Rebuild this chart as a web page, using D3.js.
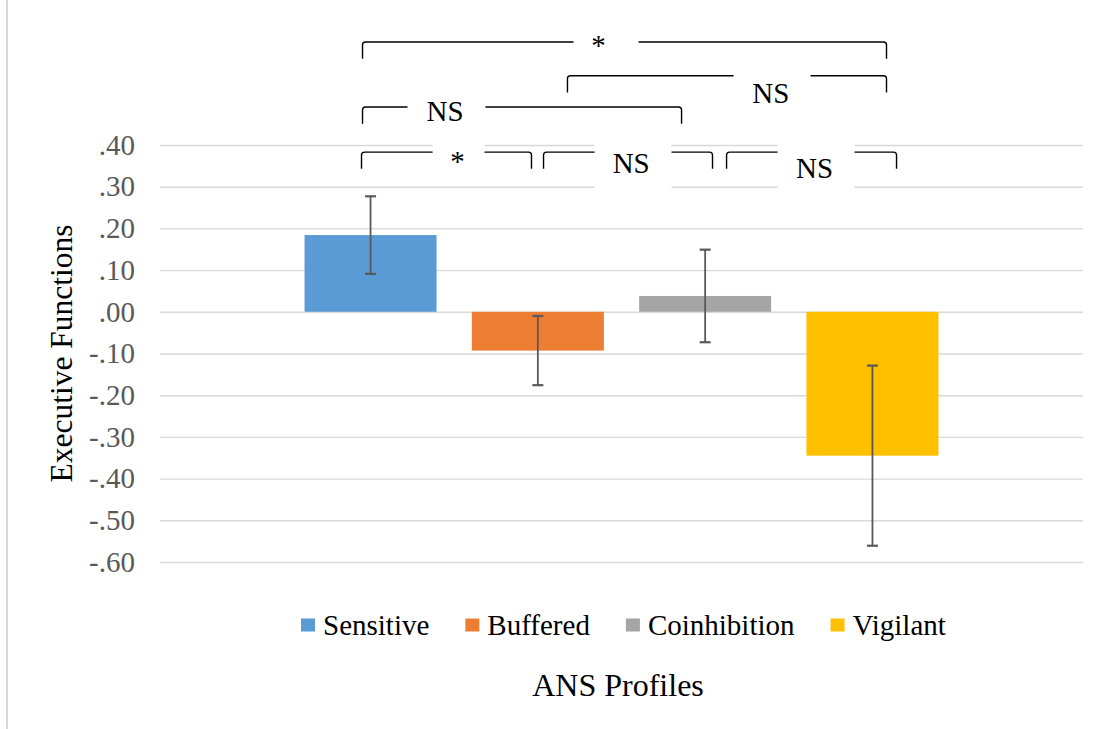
<!DOCTYPE html>
<html>
<head>
<meta charset="utf-8">
<script src="https://cdn.jsdelivr.net/npm/d3@7"></script>
<style>
  html, body { margin: 0; padding: 0; background: #fff; }
  svg { display: block; }
  text { font-family: "Liberation Serif", "Times New Roman", serif; }
</style>
</head>
<body>
<svg id="chart" width="1111" height="729"></svg>
<script>
// ANS profile group means on executive functions, with error bar half-widths
const profiles = ["Sensitive", "Buffered", "Coinhibition", "Vigilant"];
const means = [0.184, -0.093, 0.038, -0.345];
const errors = [0.093, 0.083, 0.111, 0.216];
const colors = ["#5B9BD5", "#ED7D31", "#A5A5A5", "#FFC000"];

const yTickValues = [0.4, 0.3, 0.2, 0.1, 0.0, -0.1, -0.2, -0.3, -0.4, -0.5, -0.6];
const yTickLabels = [".40", ".30", ".20", ".10", ".00", "-.10", "-.20", "-.30", "-.40", "-.50", "-.60"];

// Pairwise comparison brackets: ends in profile-index units, level in y units
const bracketFrom  = [-0.048, 1.177, -0.048, -0.054, 1.034, 2.128];
const bracketTo    = [ 3.084, 3.084,  1.859,  0.962, 2.044, 3.144];
const bracketLevel = [ 0.647, 0.566,  0.491,  0.383, 0.383, 0.383];
const bracketText  = ["*", "NS", "NS", "*", "NS", "NS"];
const labelX       = [1.363, 2.393, 0.445, 0.520, 1.558, 2.654];
const labelBase    = [0.616, 0.500, 0.458, 0.337, 0.332, 0.322];
const gapFrom      = [1.213, 2.170, 0.221, 0.371, 1.339, 2.433];
const gapTo        = [1.602, 2.630, 0.687, 0.681, 1.799, 2.893];

const svg = d3.select("#chart");
const W = 1111, H = 729;
const plot = { left: 160, right: 1083, top: 145, bottom: 562 };

svg.append("rect").attr("width", W).attr("height", H).attr("fill", "#fff");
// chart-area border on the left edge
svg.append("line")
  .attr("x1", 7).attr("x2", 7).attr("y1", 0).attr("y2", H)
  .attr("stroke", "#d9d9d9").attr("stroke-width", 2);

const x = d3.scaleBand()
  .domain(profiles)
  .range([plot.left, plot.right])
  .paddingInner(0.211)
  .paddingOuter(0.864);

const y = d3.scaleLinear()
  .domain([-0.6, 0.4])
  .range([plot.bottom, plot.top]);

const center = d => x(d) + x.bandwidth() / 2;
const pos = d3.scaleLinear().domain([0, profiles.length - 1])
  .range([center(profiles[0]), center(profiles[profiles.length - 1])]);

// gridlines + tick labels
const yAxis = d3.axisLeft(y)
  .tickValues(yTickValues)
  .tickFormat((d, i) => yTickLabels[i])
  .tickSize(-(plot.right - plot.left))
  .tickPadding(25);

const gAxis = svg.append("g")
  .attr("transform", `translate(${plot.left},0)`)
  .call(yAxis);
gAxis.attr("font-family", null);
gAxis.select(".domain").remove();
gAxis.selectAll(".tick line").attr("stroke", "#d9d9d9").attr("stroke-width", 1.4);
gAxis.selectAll(".tick text")
  .attr("fill", "#595959")
  .style("font-size", "29px")
  .style("font-family", "'Liberation Serif', 'Times New Roman', serif");

// bars
svg.append("g").selectAll("rect")
  .data(profiles)
  .join("rect")
  .attr("x", d => x(d))
  .attr("width", x.bandwidth())
  .attr("y", (d, i) => y(Math.max(0, means[i])))
  .attr("height", (d, i) => Math.abs(y(means[i]) - y(0)))
  .attr("fill", (d, i) => colors[i]);

// error bars
const capW = 11;
const eb = svg.append("g").attr("stroke", "#595959");
profiles.forEach((p, i) => {
  const cx = center(p);
  const hi = y(means[i] + errors[i]), lo = y(means[i] - errors[i]);
  eb.append("line").attr("x1", cx).attr("x2", cx).attr("y1", hi).attr("y2", lo).attr("stroke-width", 1.8);
  eb.append("line").attr("x1", cx - capW / 2).attr("x2", cx + capW / 2).attr("y1", hi).attr("y2", hi).attr("stroke-width", 2.2);
  eb.append("line").attr("x1", cx - capW / 2).attr("x2", cx + capW / 2).attr("y1", lo).attr("y2", lo).attr("stroke-width", 2.2);
});

// significance brackets
const depth = 16.7, r = 3;
const gB = svg.append("g");
bracketText.forEach((t, i) => {
  const x0 = pos(bracketFrom[i]), x1 = pos(bracketTo[i]), yl = y(bracketLevel[i]);
  const path = `M${x0},${yl + depth} L${x0},${yl + r} Q${x0},${yl} ${x0 + r},${yl} ` +
               `L${x1 - r},${yl} Q${x1},${yl} ${x1},${yl + r} L${x1},${yl + depth}`;
  gB.append("path").attr("d", path).attr("fill", "none")
    .attr("stroke", "#000").attr("stroke-width", 1.4);
});
bracketText.forEach((t, i) => {
  const base = y(labelBase[i]);
  const top = base - 36, bottom = t === "*" ? base + 6 : base + 18;
  gB.append("rect")
    .attr("x", pos(gapFrom[i])).attr("width", pos(gapTo[i]) - pos(gapFrom[i]))
    .attr("y", top).attr("height", bottom - top)
    .attr("fill", "#fff");
  gB.append("text")
    .attr("x", pos(labelX[i])).attr("y", base)
    .attr("text-anchor", "middle")
    .style("font-size", "29px")
    .attr("fill", "#000")
    .text(t);
});

// y axis title
svg.append("text")
  .attr("transform", `translate(72,${(plot.top + plot.bottom) / 2}) rotate(-90)`)
  .attr("text-anchor", "middle")
  .style("font-size", "31.5px")
  .attr("fill", "#000")
  .text("Executive Functions");

// legend
const legend = svg.append("g");
const items = profiles.map((p, i) => {
  const g = legend.append("g");
  g.append("rect").attr("x", 0).attr("y", -6.5).attr("width", 14).attr("height", 13).attr("fill", colors[i]);
  const tx = g.append("text").attr("x", 22).attr("y", 10).style("font-size", "29px").attr("fill", "#000").text(p);
  return { g, w: 22 + tx.node().getComputedTextLength() };
});
const legGap = 36;
const totalW = d3.sum(items, d => d.w) + legGap * (items.length - 1);
let lx = 301;
items.forEach(it => {
  it.g.attr("transform", `translate(${lx},625)`);
  lx += it.w + legGap;
});

// x axis title
svg.append("text")
  .attr("x", 618)
  .attr("y", 696)
  .attr("text-anchor", "middle")
  .style("font-size", "32px")
  .attr("fill", "#000")
  .text("ANS Profiles");
</script>
</body>
</html>
